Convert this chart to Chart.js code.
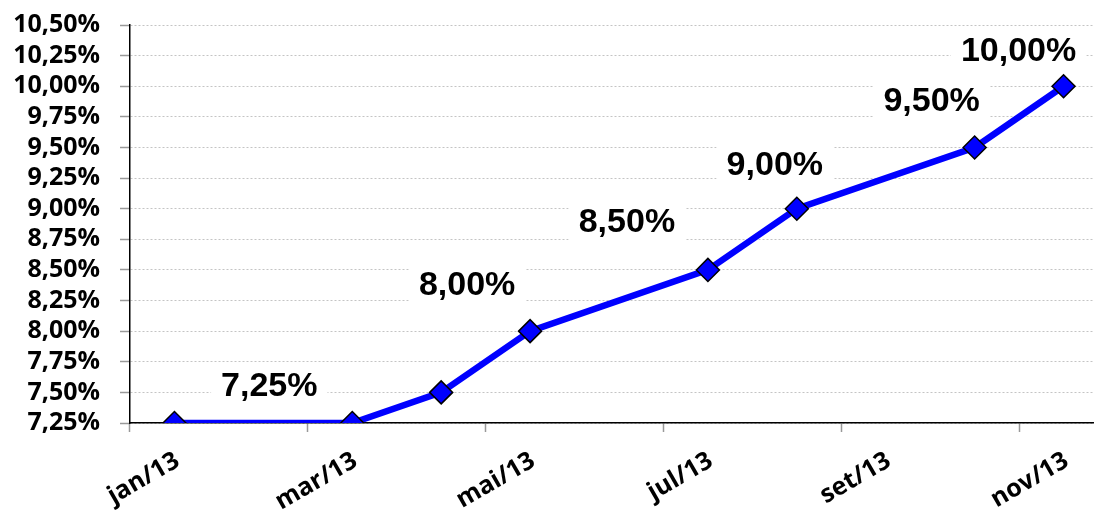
<!DOCTYPE html>
<html>
<head>
<meta charset="utf-8">
<script src="https://cdn.jsdelivr.net/npm/chart.js@4"></script>
<style>
  html, body { margin: 0; padding: 0; background: #fff; overflow: hidden; }
  #wrap { position: absolute; left: 0; top: -10px; width: 1121px; height: 522px; }
</style>
</head>
<body>
<div id="wrap"><canvas id="selic" width="1121" height="522"></canvas></div>
<script>
// months on the axis (one slot per month), rate on meeting months only
const months = ['jan/13', 'fev/13', 'mar/13', 'abr/13', 'mai/13', 'jun/13',
                'jul/13', 'ago/13', 'set/13', 'out/13', 'nov/13'];
const rates = [7.25, null, 7.25, 7.50, 8.00, null, 8.50, 9.00, null, 9.50, 10.00];
// which points carry a value label
const labelled = [false, false, true, false, true, false, true, true, false, true, true];

const yMin = 7.25;
const yMax = 10.5;
const yStep = 0.25;

function fmtPct(v) {
    return (Math.round(v * 100) / 100).toFixed(2).replace('.', ',') + '%';
}

// draws the value labels on a white box, offset from their point
const valueLabels = {
    id: 'valueLabels',
    beforeDatasetsDraw(chart, args, opts) {
        const ctx = chart.ctx;
        const meta = chart.getDatasetMeta(0);
        ctx.save();
        ctx.font = opts.font;
        ctx.textAlign = 'center';
        ctx.textBaseline = 'middle';
        meta.data.forEach((pt, i) => {
            if (!labelled[i] || rates[i] == null) return;
            const off = opts.offsets[i] || [0, -40];
            const x = pt.x + off[0];
            const y = pt.y + off[1];
            const txt = fmtPct(rates[i]);
            const w = ctx.measureText(txt).width + 20;
            ctx.fillStyle = '#fff';
            ctx.fillRect(x - w / 2, y - 22, w, 44);
            ctx.fillStyle = '#000';
            ctx.fillText(txt, x, y + 1);
        });
        ctx.restore();
    }
};

const tickFont = { family: '"Open Sans", sans-serif', size: 25, weight: 'bold' };

new Chart(document.getElementById('selic'), {
    type: 'line',
    data: {
        labels: months,
        datasets: [{
            data: rates,
            spanGaps: true,
            borderColor: '#0000ff',
            borderWidth: 6.5,
            tension: 0,
            pointStyle: 'rectRot',
            pointRadius: 11.5,
            pointHoverRadius: 11.5,
            pointBackgroundColor: '#0000ff',
            pointBorderColor: '#000',
            pointBorderWidth: 1.5
        }]
    },
    options: {
        responsive: false,
        animation: false,
        devicePixelRatio: 1,
        layout: { padding: { top: 2, right: 0, left: 0, bottom: 0 } },
        plugins: {
            legend: { display: false },
            tooltip: { enabled: false },
            valueLabels: {
                font: 'bold 34px "Liberation Sans", Arial, sans-serif',
                offsets: [null, null, [-83, -37], null, [-63, -47], null,
                          [-81, -48], [-22, -44], null, [-43, -47], [-45, -36]]
            }
        },
        scales: {
            x: {
                offset: true,
                afterFit(scale) { scale.height = 89; },
                border: { display: true, color: '#000', width: 1.5 },
                grid: {
                    offset: true,
                    drawOnChartArea: false,
                    drawTicks: true,
                    tickLength: 9,
                    tickWidth: 1.5,
                    tickColor: ctx => (ctx.index !== undefined && ctx.index % 2 === 0) ? '#999' : 'rgba(0,0,0,0)'
                },
                ticks: {
                    autoSkip: false,
                    maxRotation: 30,
                    minRotation: 30,
                    padding: 14,
                    labelOffset: 3,
                    color: '#000',
                    font: tickFont,
                    callback: (v, i) => i % 2 === 0 ? months[i] : ''
                }
            },
            y: {
                min: yMin,
                max: yMax,
                afterFit(scale) { scale.width = 130; },
                border: { display: true, color: '#000', width: 1.5, dash: [2, 2] },
                grid: {
                    color: '#c4c4c4',
                    lineWidth: 1,
                    tickLength: 10,
                    tickColor: '#999',
                    tickWidth: 1.5,
                    tickBorderDash: []
                },
                ticks: {
                    stepSize: yStep,
                    autoSkip: false,
                    padding: 20,
                    color: '#000',
                    font: tickFont,
                    callback: v => fmtPct(v)
                }
            }
        }
    },
    plugins: [valueLabels]
});
</script>
</body>
</html>
